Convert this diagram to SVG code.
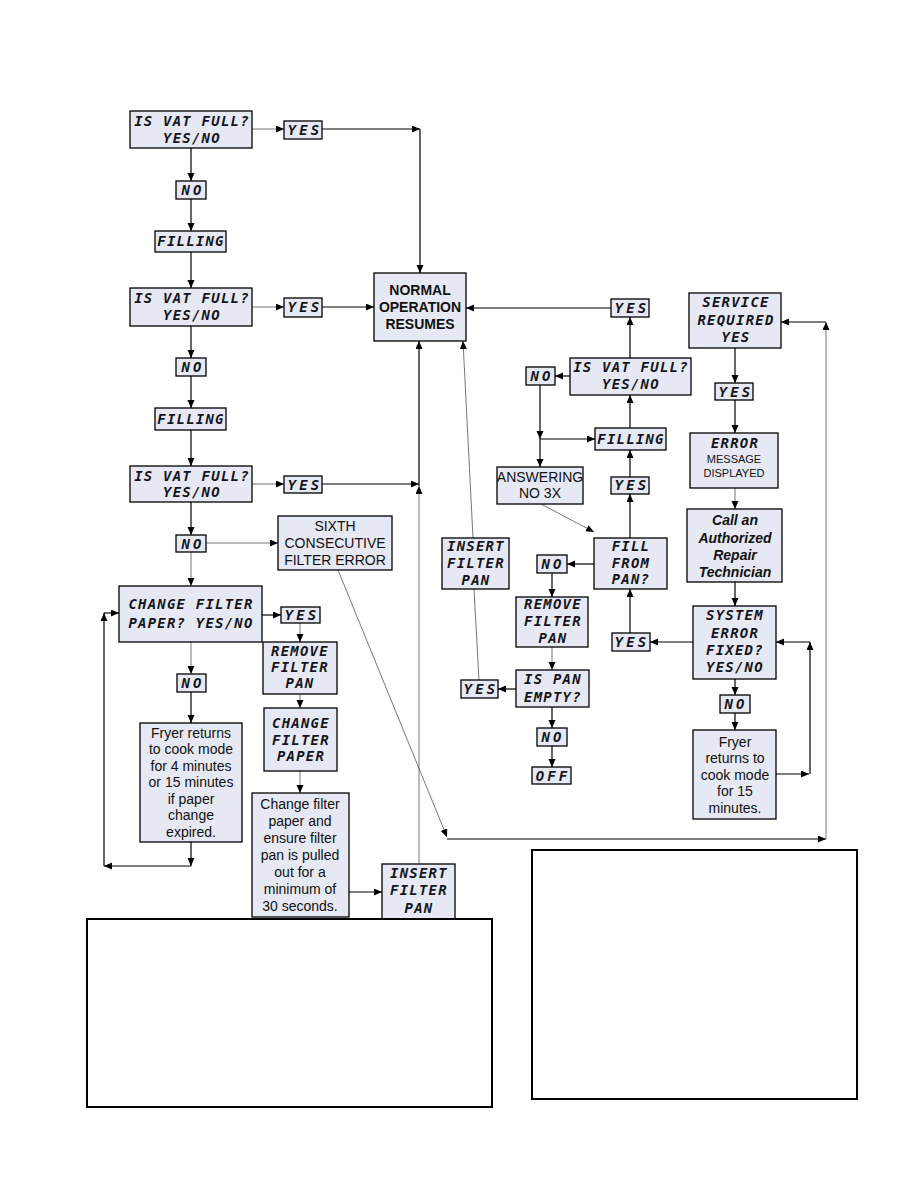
<svg xmlns="http://www.w3.org/2000/svg" width="918" height="1188" viewBox="0 0 918 1188">
<style>
.box{fill:#e6e9f4;stroke:#000;stroke-width:1.3}
.big{fill:#fff;stroke:#000;stroke-width:2}
.lcd{font-family:'DejaVu Sans Mono',monospace;font-weight:bold;font-style:italic;font-size:14px;letter-spacing:1.2px;fill:#151520;text-anchor:middle}
.lw{letter-spacing:3px}
.t{font-family:'Liberation Sans',Arial,sans-serif;font-size:14px;fill:#111;text-anchor:middle}
.b{font-weight:bold}
.bi{font-weight:bold;font-style:italic}
.s{font-size:11px}
.c path,.c line{fill:none;stroke:#000;stroke-width:1.2;marker-end:url(#ah)}
.c .g{stroke:#777;stroke-width:1}
.c .n{marker-end:none}
</style>
<defs>
<marker id="ah" markerUnits="userSpaceOnUse" markerWidth="9" markerHeight="8" refX="8" refY="3.5" orient="auto">
<path d="M0,0 L8,3.5 L0,7 z" fill="#000"/>
</marker>
</defs>
<rect width="918" height="1188" fill="#fff"/>

<g class="c" id="connectors">
<line class="g" x1="252" y1="129" x2="284" y2="129"/>
<line x1="322" y1="129" x2="420" y2="129"/>
<line x1="420" y1="129" x2="420" y2="273"/>
<line x1="191" y1="148" x2="191" y2="181"/>
<line x1="191" y1="199" x2="191" y2="231"/>
<line x1="191" y1="252" x2="191" y2="288"/>
<line class="g" x1="252" y1="307" x2="284" y2="307"/>
<line x1="322" y1="307" x2="374" y2="307"/>
<line x1="191" y1="326" x2="191" y2="358"/>
<line x1="191" y1="376" x2="191" y2="408"/>
<line x1="191" y1="430" x2="191" y2="466"/>
<line class="g" x1="252" y1="484" x2="284" y2="484"/>
<line x1="322" y1="484" x2="419" y2="484"/>
<line class="g" x1="419" y1="864" x2="419" y2="486"/>
<line x1="419" y1="486" x2="419" y2="341"/>
<line x1="191" y1="502" x2="191" y2="535"/>
<line class="g" x1="206" y1="543" x2="278" y2="543"/>
<line class="g" x1="191" y1="552" x2="191" y2="586"/>
<line x1="262" y1="615" x2="281" y2="615"/>
<line class="g" x1="300" y1="623" x2="300" y2="642"/>
<line class="g" x1="300" y1="694" x2="300" y2="708"/>
<line class="g" x1="300" y1="771" x2="300" y2="793"/>
<line x1="349" y1="892" x2="382" y2="892"/>
<line class="g" x1="191" y1="642" x2="191" y2="674"/>
<line x1="191" y1="692" x2="191" y2="723"/>
<line x1="191" y1="842" x2="191" y2="866"/>
<line x1="191" y1="866" x2="104" y2="866"/>
<line x1="104" y1="866" x2="104" y2="613"/>
<line x1="104" y1="613" x2="119" y2="613"/>
<line class="g" x1="338" y1="570" x2="447" y2="837"/>
<line x1="447" y1="839" x2="826" y2="839"/>
<line class="g" x1="826" y1="839" x2="826" y2="322"/>
<line x1="826" y1="322" x2="781" y2="322"/>
<line x1="611" y1="308" x2="466" y2="308"/>
<line x1="630" y1="358" x2="630" y2="317"/>
<line x1="570" y1="376" x2="555" y2="376"/>
<line x1="540" y1="385" x2="540" y2="439"/>
<line x1="540" y1="439" x2="595" y2="439"/>
<line x1="540" y1="439" x2="540" y2="467"/>
<line x1="630" y1="428" x2="630" y2="395"/>
<line x1="630" y1="477" x2="630" y2="450"/>
<line class="g" x1="541" y1="504" x2="594" y2="532"/>
<line x1="630" y1="538" x2="630" y2="494"/>
<line x1="594" y1="564" x2="567" y2="564"/>
<line class="g" x1="473" y1="538" x2="463" y2="341"/>
<line x1="552" y1="573" x2="552" y2="597"/>
<line class="g" x1="552" y1="647" x2="552" y2="670"/>
<line x1="516" y1="689" x2="498" y2="689"/>
<line class="g n" x1="479" y1="680" x2="474" y2="589"/>
<line x1="552" y1="707" x2="552" y2="728"/>
<line x1="552" y1="746" x2="552" y2="767"/>
<line x1="630" y1="633" x2="630" y2="589"/>
<line x1="693" y1="642" x2="650" y2="642"/>
<line x1="735" y1="348" x2="735" y2="383"/>
<line x1="735" y1="400" x2="735" y2="433"/>
<line class="g" x1="735" y1="488" x2="735" y2="509"/>
<line x1="735" y1="582" x2="735" y2="606"/>
<line x1="735" y1="679" x2="735" y2="695"/>
<line x1="735" y1="713" x2="735" y2="730"/>
<line x1="776" y1="774" x2="809" y2="774"/>
<line x1="810" y1="774" x2="810" y2="642"/>
<line x1="810" y1="642" x2="776" y2="642"/>
</g>

<g id="vat1"><rect class="box" x="130" y="111" width="122" height="37"/><text class="lcd" x="192" y="126">IS VAT FULL?</text><text class="lcd" x="192" y="143">YES/NO</text></g>
<g id="yes1"><rect class="box" x="284" y="121" width="38" height="18"/><text class="lcd lw" x="305" y="135">YES</text></g>
<g id="no1"><rect class="box" x="176" y="181" width="30" height="18"/><text class="lcd lw" x="193" y="195">NO</text></g>
<g id="filling1"><rect class="box" x="155" y="231" width="71" height="21"/><text class="lcd" x="191" y="246">FILLING</text></g>
<g id="vat2"><rect class="box" x="130" y="288" width="122" height="38"/><text class="lcd" x="192" y="303">IS VAT FULL?</text><text class="lcd" x="192" y="320">YES/NO</text></g>
<g id="yes2"><rect class="box" x="284" y="298" width="38" height="19"/><text class="lcd lw" x="305" y="312">YES</text></g>
<g id="normal"><rect class="box" x="374" y="273" width="92" height="68"/><text class="t b" x="420" y="295">NORMAL</text><text class="t b" x="420" y="312">OPERATION</text><text class="t b" x="420" y="329">RESUMES</text></g>
<g id="no2"><rect class="box" x="176" y="358" width="30" height="18"/><text class="lcd lw" x="193" y="372">NO</text></g>
<g id="filling2"><rect class="box" x="155" y="408" width="71" height="22"/><text class="lcd" x="191" y="424">FILLING</text></g>
<g id="vat3"><rect class="box" x="130" y="466" width="122" height="36"/><text class="lcd" x="192" y="481">IS VAT FULL?</text><text class="lcd" x="192" y="497">YES/NO</text></g>
<g id="yes3"><rect class="box" x="284" y="476" width="38" height="17"/><text class="lcd lw" x="305" y="490">YES</text></g>
<g id="no3"><rect class="box" x="176" y="535" width="30" height="17"/><text class="lcd lw" x="193" y="549">NO</text></g>
<g id="sixth"><rect class="box" x="278" y="516" width="114" height="54"/><text class="t" x="335" y="531">SIXTH</text><text class="t" x="335" y="548">CONSECUTIVE</text><text class="t" x="335" y="565">FILTER ERROR</text></g>
<g id="changeq"><rect class="box" x="119" y="586" width="143" height="56"/><text class="lcd" x="191" y="609">CHANGE FILTER</text><text class="lcd" x="191" y="628">PAPER? YES/NO</text></g>
<g id="yes4"><rect class="box" x="281" y="607" width="39" height="16"/><text class="lcd lw" x="302" y="620">YES</text></g>
<g id="remove1"><rect class="box" x="263" y="642" width="74" height="52"/><text class="lcd" x="300" y="656">REMOVE</text><text class="lcd" x="300" y="672">FILTER</text><text class="lcd" x="300" y="688">PAN</text></g>
<g id="changepaper"><rect class="box" x="264" y="708" width="73" height="63"/><text class="lcd" x="301" y="728">CHANGE</text><text class="lcd" x="301" y="745">FILTER</text><text class="lcd" x="301" y="761">PAPER</text></g>
<g id="changetext"><rect class="box" x="252" y="793" width="97" height="124"/><text class="t" x="300" y="809">Change filter</text><text class="t" x="300" y="826">paper and</text><text class="t" x="300" y="843">ensure filter</text><text class="t" x="300" y="860">pan is pulled</text><text class="t" x="300" y="877">out for a</text><text class="t" x="300" y="894">minimum of</text><text class="t" x="300" y="911">30 seconds.</text></g>
<g id="no4"><rect class="box" x="177" y="674" width="29" height="18"/><text class="lcd lw" x="193" y="688">NO</text></g>
<g id="fryer1"><rect class="box" x="140" y="723" width="102" height="119"/><text class="t" x="191" y="738">Fryer returns</text><text class="t" x="191" y="754">to cook mode</text><text class="t" x="191" y="771">for 4 minutes</text><text class="t" x="191" y="787">or 15 minutes</text><text class="t" x="191" y="804">if paper</text><text class="t" x="191" y="820">change</text><text class="t" x="191" y="837">expired.</text></g>
<g id="insert1"><rect class="box" x="382" y="864" width="73" height="55"/><text class="lcd" x="419" y="878">INSERT</text><text class="lcd" x="419" y="895">FILTER</text><text class="lcd" x="419" y="913">PAN</text></g>

<g id="yes5"><rect class="box" x="611" y="299" width="38" height="18"/><text class="lcd lw" x="632" y="313">YES</text></g>
<g id="vat4"><rect class="box" x="570" y="358" width="121" height="37"/><text class="lcd" x="631" y="372">IS VAT FULL?</text><text class="lcd" x="631" y="389">YES/NO</text></g>
<g id="no5"><rect class="box" x="526" y="367" width="29" height="18"/><text class="lcd lw" x="542" y="381">NO</text></g>
<g id="filling3"><rect class="box" x="595" y="428" width="71" height="22"/><text class="lcd" x="631" y="444">FILLING</text></g>
<g id="answering"><rect class="box" x="497" y="467" width="86" height="37"/><text class="t" x="540" y="482" font-size="12.5">ANSWERING</text><text class="t" x="540" y="498" font-size="12.5">NO 3X</text></g>
<g id="yes6"><rect class="box" x="611" y="477" width="38" height="17"/><text class="lcd lw" x="632" y="490">YES</text></g>
<g id="fill"><rect class="box" x="594" y="538" width="73" height="51"/><text class="lcd" x="631" y="551">FILL</text><text class="lcd" x="631" y="568">FROM</text><text class="lcd" x="631" y="584">PAN?</text></g>
<g id="insert2"><rect class="box" x="442" y="538" width="67" height="51"/><text class="lcd" x="476" y="551">INSERT</text><text class="lcd" x="476" y="568">FILTER</text><text class="lcd" x="476" y="585">PAN</text></g>
<g id="no6"><rect class="box" x="537" y="555" width="30" height="18"/><text class="lcd lw" x="553" y="569">NO</text></g>
<g id="remove2"><rect class="box" x="516" y="597" width="72" height="50"/><text class="lcd" x="553" y="609">REMOVE</text><text class="lcd" x="553" y="626">FILTER</text><text class="lcd" x="553" y="643">PAN</text></g>
<g id="pan"><rect class="box" x="516" y="670" width="73" height="37"/><text class="lcd" x="553" y="684">IS PAN</text><text class="lcd" x="553" y="702">EMPTY?</text></g>
<g id="yes7"><rect class="box" x="461" y="680" width="37" height="18"/><text class="lcd lw" x="481" y="694">YES</text></g>
<g id="no7"><rect class="box" x="537" y="728" width="30" height="18"/><text class="lcd lw" x="553" y="742">NO</text></g>
<g id="off"><rect class="box" x="532" y="767" width="39" height="17"/><text class="lcd lw" x="553" y="781">OFF</text></g>
<g id="yes8"><rect class="box" x="612" y="633" width="38" height="18"/><text class="lcd lw" x="632" y="647">YES</text></g>

<g id="service"><rect class="box" x="689" y="293" width="92" height="55"/><text class="lcd" x="736" y="307">SERVICE</text><text class="lcd" x="736" y="325">REQUIRED</text><text class="lcd" x="736" y="342">YES</text></g>
<g id="yes9"><rect class="box" x="715" y="383" width="38" height="17"/><text class="lcd lw" x="736" y="397">YES</text></g>
<g id="error"><rect class="box" x="690" y="433" width="88" height="55"/><text class="lcd" x="735" y="448">ERROR</text><text class="t s" x="734" y="463">MESSAGE</text><text class="t s" x="734" y="477">DISPLAYED</text></g>
<g id="call"><rect class="box" x="687" y="509" width="95" height="73"/><text class="t bi" x="735" y="525">Call an</text><text class="t bi" x="735" y="543">Authorized</text><text class="t bi" x="735" y="560">Repair</text><text class="t bi" x="735" y="577">Technician</text></g>
<g id="system"><rect class="box" x="693" y="606" width="83" height="73"/><text class="lcd" x="735" y="620">SYSTEM</text><text class="lcd" x="735" y="638">ERROR</text><text class="lcd" x="735" y="655">FIXED?</text><text class="lcd" x="735" y="672">YES/NO</text></g>
<g id="no8"><rect class="box" x="720" y="695" width="30" height="18"/><text class="lcd lw" x="736" y="709">NO</text></g>
<g id="fryer2"><rect class="box" x="693" y="730" width="83" height="89"/><text class="t" x="735" y="747">Fryer</text><text class="t" x="735" y="763">returns to</text><text class="t" x="735" y="780">cook mode</text><text class="t" x="735" y="796">for 15</text><text class="t" x="735" y="813">minutes.</text></g>

<g id="panel-left"><rect class="big" x="87" y="919" width="405" height="188"/></g>
<g id="panel-right"><rect class="big" x="532" y="850" width="325" height="249"/></g>
</svg>
